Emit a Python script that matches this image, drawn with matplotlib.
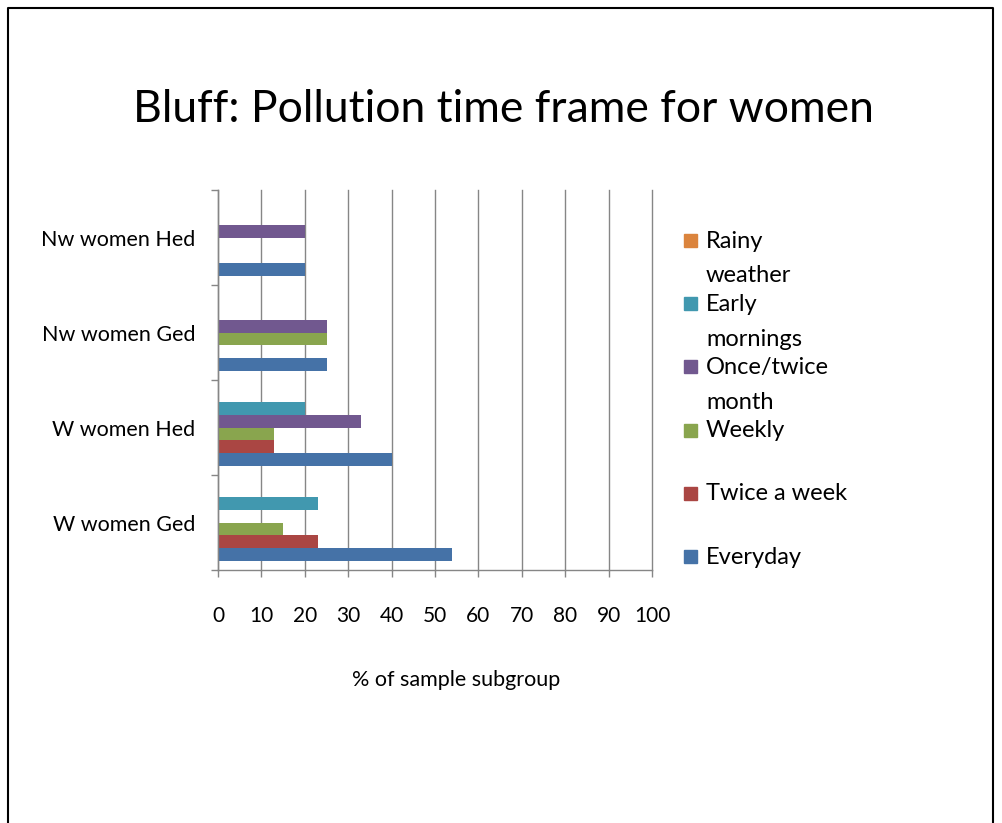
import numpy as np
from matplotlib import pyplot as plt
from matplotlib.patches import Rectangle
from matplotlib.lines import Line2D

plt.rcParams['font.family'] = ['Lato', 'DejaVu Sans']

categories = ['W women Ged', 'W women Hed', 'Nw women Ged', 'Nw women Hed']
series = ['Everyday', 'Twice a week', 'Weekly', 'Once/twice month', 'Early mornings', 'Rainy weather']
legend_labels = ['Everyday', 'Twice a week', 'Weekly', 'Once/twice\nmonth', 'Early\nmornings', 'Rainy\nweather']
everyday = [54, 40, 25, 20]
twice_week = [23, 13, 0, 0]
weekly = [15, 13, 25, 0]
once_twice_month = [0, 33, 25, 20]
early_mornings = [23, 20, 0, 0]
rainy_weather = [0, 0, 0, 0]
values = [everyday, twice_week, weekly, once_twice_month, early_mornings, rainy_weather]
colors = ['#4572A7', '#AA4643', '#89A54E', '#71588F', '#4198AF', '#DB843D']
xticks = list(range(0, 101, 10))

fig = plt.figure(figsize=(10.02, 8.23), dpi=100)
ax = fig.add_axes([0.2176, 0.3074, 0.4331, 0.4617])

n = len(series)
h = 0.8 / n
y = np.arange(len(categories))
for i, (vals, c) in enumerate(zip(values, colors)):
    ax.barh(y - 0.4 + h * (i + 0.5), vals, height=h, color=c, zorder=3)

ax.set_xlim(0, 100)
ax.set_ylim(-0.5, len(categories) - 0.5)
ax.set_xticks(xticks)
ax.set_xticklabels([str(t) for t in xticks], fontsize=15)
ax.set_yticks(y)
ax.set_yticklabels(categories, fontsize=15.5)
ax.tick_params(axis='y', length=0, pad=16.5)
ax.set_yticks(np.arange(len(categories) + 1) - 0.5, minor=True)
ax.tick_params(axis='y', which='minor', length=5, color='#868686', width=1)
ax.tick_params(axis='x', length=5, color='#868686', width=1, pad=21)
ax.grid(axis='x', color='#868686', linewidth=1, zorder=0)
for gl in ax.xaxis.get_gridlines():
    gl.set_clip_on(False)
for s in ['top', 'right']:
    ax.spines[s].set_visible(False)
for s in ['left', 'bottom']:
    ax.spines[s].set_color('#868686')
    ax.spines[s].set_linewidth(1)
    ax.spines[s].set_zorder(4)

fig.text(0.455, 1 - 680 / 823, '% of sample subgroup', ha='center', va='center', fontsize=15.5)
fig.text(0.502, 1 - 110 / 823, 'Bluff: Pollution time frame for women', ha='center', va='center', fontsize=32)

# legend drawn by hand, top entry = last series
y0, dy = 241, 63.2
for k, i in enumerate(range(n - 1, -1, -1)):
    yp = y0 + k * dy
    fig.patches.append(Rectangle((684 / 1002, 1 - (yp + 6) / 823), 13 / 1002, 13 / 823,
                                 transform=fig.transFigure, color=colors[i]))
    lines = legend_labels[i].split('\n')
    for j, line in enumerate(lines):
        fig.text(706 / 1002, 1 - (yp + j * 35) / 823, line, ha='left', va='center', fontsize=17)

# slide border
fig.add_artist(Line2D([8 / 1002, 8 / 1002, 993 / 1002, 993 / 1002], [0, 1 - 8 / 823, 1 - 8 / 823, 0],
                      transform=fig.transFigure, color='black', linewidth=1.5))

plt.savefig('out.png', dpi=100)
